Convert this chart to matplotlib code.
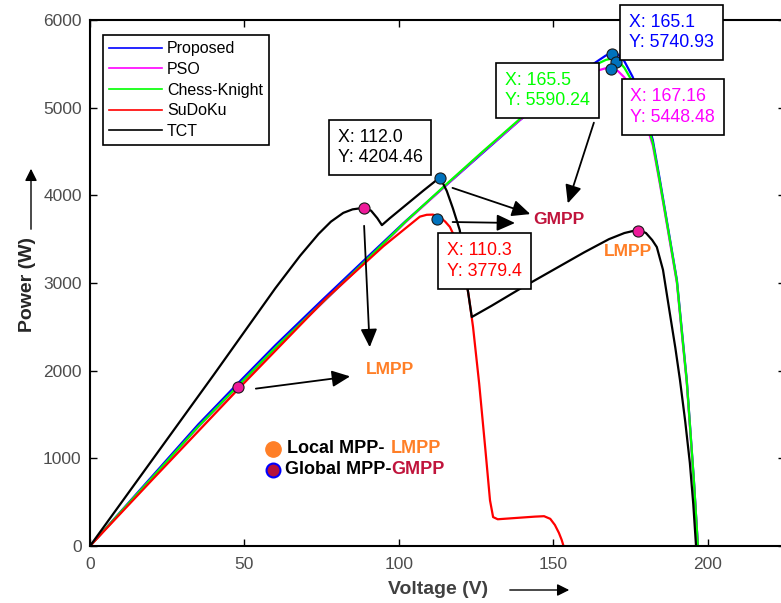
import matplotlib
matplotlib.use("Agg")
import matplotlib.pyplot as plt

plt.rcParams['font.family'] = ['Liberation Sans', 'DejaVu Sans']

# curve data (V, W)
v_prop = [0, 10, 20, 35, 48, 60, 75, 89.5, 102, 115.4, 127, 139.2, 150, 158, 164, 167, 169, 171, 173, 175.7,
          178, 180, 182.2, 184.5, 187, 190, 192, 193.2, 194.5, 195.5, 196.3, 196.8]
p_prop = [0, 395, 790, 1385, 1860, 2290, 2800, 3285, 3700, 4118, 4480, 4859, 5170, 5380, 5524, 5595, 5620, 5605,
          5530, 5350, 5130, 4900, 4631, 4175, 3657, 3034, 2322, 1893, 1250, 753, 290, 0]
p_cheknight = [0, 390, 775, 1360, 1830, 2260, 2770, 3262, 3695, 4128, 4495, 4872, 5172, 5368, 5495, 5545, 5560,
               5535, 5455, 5290, 5080, 4860, 4600, 4150, 3640, 3020, 2300, 1880, 1240, 745, 285, 0]
p_pso = [0, 388, 772, 1355, 1825, 2255, 2765, 3255, 3688, 4120, 4488, 4860, 5150, 5330, 5420, 5450, 5452,
         5415, 5345, 5200, 5020, 4820, 4570, 4130, 3620, 3000, 2280, 1860, 1220, 730, 280, 0]

v_sudoku = [0, 20, 48, 76.6, 95, 106.8, 109, 111, 113, 115, 116.5, 118, 119.5, 121, 122.5, 124, 126, 128,
            129.5, 130.5, 132, 136, 140, 144, 147, 149, 150.5, 151.8, 152.7, 153.3]
p_sudoku = [0, 750, 1790, 2830, 3420, 3757, 3778, 3780, 3760, 3700, 3640, 3530, 3370, 3150, 2880, 2500, 1850,
            1100, 520, 330, 305, 315, 325, 335, 340, 310, 240, 150, 70, 0]

v_tct = [0, 20, 40, 60, 68, 74, 78, 82, 85, 88.7, 91, 93, 94.5, 97, 100, 104, 108, 111, 113.3, 115.5, 117.5,
         119.7, 121, 122.3, 123.6, 130, 140, 150, 160, 168, 173, 176, 178, 180, 182, 183.5, 185.5, 187.7,
         189.5, 191, 192.7, 194.2, 195.3, 196.2]
p_tct = [0, 975, 1950, 2940, 3310, 3560, 3700, 3800, 3840, 3858, 3825, 3740, 3660, 3737, 3824, 3940, 4056,
         4140, 4205, 4050, 3850, 3604, 3300, 2920, 2612, 2740, 2950, 3150, 3350, 3500, 3570, 3595, 3600, 3570,
         3490, 3410, 3150, 2658, 2260, 1893, 1420, 947, 480, 0]

# marked points
gmpp_v = [113.3, 112.3, 169.0, 170.2, 168.6]
gmpp_p = [4200, 3730, 5612, 5521, 5441]
lmpp_v = [88.7, 177.3, 47.9]
lmpp_p = [3856, 3593, 1814]

series = [('Proposed', v_prop, p_prop, 'blue'),
          ('PSO', v_prop, p_pso, 'magenta'),
          ('Chess-Knight', v_prop, p_cheknight, '#00ff00'),
          ('SuDoKu', v_sudoku, p_sudoku, 'red'),
          ('TCT', v_tct, p_tct, 'black')]

fig = plt.figure(figsize=(7.81, 6.03), dpi=100)
ax = fig.add_axes([90/781, 57/603, 695/781, 526/603])

for name, v, p, c in series:
    ax.plot(v, p, color=c, lw=1.6, label=name)

ax.plot(gmpp_v, gmpp_p, 'o', ms=8, mfc='#0072BD', mec='#1a1a1a', mew=0.8, zorder=5)
ax.plot(lmpp_v, lmpp_p, 'o', ms=8, mfc='#ee1a9a', mec='#1a1a1a', mew=0.8, zorder=5)

ax.set_xlim(0, 225)
ax.set_ylim(0, 6000)
ax.set_xticks([0, 50, 100, 150, 200])
ax.set_yticks(range(0, 6001, 1000))
for s in ax.spines.values():
    s.set_linewidth(1.5)
ax.tick_params(direction='in', top=True, right=True, length=5, width=1,
               labelsize=12.5, labelcolor='#4d4d4d')
ax.tick_params(axis='x', pad=8)
ax.tick_params(axis='y', pad=6)

leg = ax.legend(loc='upper left', bbox_to_anchor=(0.0187, 0.9715), borderaxespad=0,
                fontsize=11.5, fancybox=False, edgecolor='black', framealpha=1,
                handlelength=3.3, handletextpad=0.3, labelspacing=0.35, borderpad=0.4)
leg.get_frame().set_linewidth(1.2)
for ln in leg.get_lines():
    ln.set_linewidth(1.2)

# data tips
tips = [(93.9, 4546, 'X: 112.0\nY: 4204.46', 'black'),
        (127.8, 3251, 'X: 110.3\nY: 3779.4', 'red'),
        (148.2, 5196, 'X: 165.5\nY: 5590.24', '#00ff00'),
        (188.3, 5857, 'X: 165.1\nY: 5740.93', 'blue'),
        (188.7, 5008, 'X: 167.16\nY: 5448.48', 'magenta')]
for x, y, t, c in tips:
    ax.text(x, y, t, color=c, fontsize=12.8, ha='center', va='center', multialignment='left',
            linespacing=1.3, zorder=6,
            bbox=dict(boxstyle='square,pad=0.5', fc='white', ec='black', lw=1.2))

arr = dict(arrowstyle='-|>,head_length=0.55,head_width=0.25', color='black', lw=1.3, mutation_scale=20)
arrows = [((116.5, 4095), (143.4, 3776)),
          ((116.5, 3696), (138.5, 3684)),
          ((163.4, 4859), (154.4, 3878)),
          ((88.7, 3684), (90.6, 2236)),
          ((52.8, 1791), (85.1, 1939))]
for start, end in arrows:
    ax.annotate('', xy=end, xytext=start, arrowprops=arr, zorder=4)

ax.text(151.8, 3719, 'GMPP', color='#c0143c', fontsize=12.5, fontweight='bold', ha='center', va='center')
ax.text(97.1, 2008, 'LMPP', color='#ff7f27', fontsize=12.5, fontweight='bold', ha='center', va='center')
ax.text(174.1, 3354, 'LMPP', color='#ff7f27', fontsize=12.5, fontweight='bold', ha='center', va='center')

# manual key
ax.plot([0.264], [0.185], 'o', ms=11, mfc='#ff7f27', mec='#ff7f27', transform=ax.transAxes)
ax.plot([0.264], [0.145], 'o', ms=10, mfc='#b5123c', mec='blue', mew=1.5, transform=ax.transAxes)
ax.text(0.283, 0.185, 'Local MPP- ', fontsize=13, fontweight='bold', va='center', transform=ax.transAxes)
ax.text(0.433, 0.185, 'LMPP', color='#ff7f27', fontsize=13, fontweight='bold', va='center',
        transform=ax.transAxes)
ax.text(0.280, 0.145, 'Global MPP-', fontsize=13, fontweight='bold', va='center', transform=ax.transAxes)
ax.text(0.433, 0.145, 'GMPP', color='#c0143c', fontsize=13, fontweight='bold', va='center',
        transform=ax.transAxes)

# axis labels with arrows
fig.text(438/781, 1 - 590/603, 'Voltage (V)', fontsize=14, fontweight='bold', color='#404040',
         ha='center', va='center')
fig.text(27/781, 1 - 285/603, 'Power (W)', fontsize=14, fontweight='bold', color='#262626',
         ha='center', va='center', rotation=90)
ax.annotate('', xy=(572, 603 - 590), xytext=(507, 603 - 590), xycoords='figure pixels',
            textcoords='figure pixels', arrowprops=dict(arrowstyle='-|>', color='black', lw=1,
                                                         mutation_scale=18))
ax.annotate('', xy=(31, 603 - 166), xytext=(31, 603 - 232), xycoords='figure pixels',
            textcoords='figure pixels', arrowprops=dict(arrowstyle='-|>', color='black', lw=1,
                                                         mutation_scale=18))

fig.savefig('out.png', dpi=100)
